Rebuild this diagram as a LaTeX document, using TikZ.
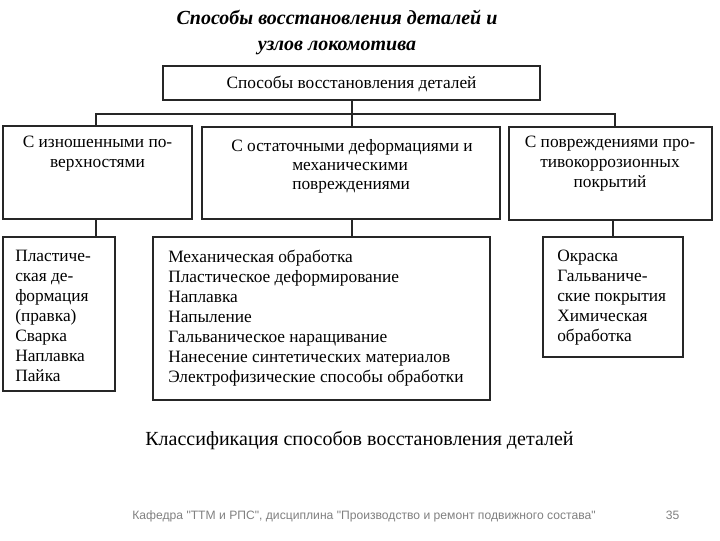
\documentclass[tikz,border=0pt]{standalone}
\usepackage{fontspec}
\setmainfont{Liberation Serif}
\newfontfamily\footfont{Liberation Sans}
\begin{document}
\begin{tikzpicture}[x=0.75pt,y=-0.75pt,
  box/.style={draw=black!85,line width=0.9pt,inner sep=0pt,fill=white},
  txt/.style={inner sep=0pt,font=\fontsize{13pt}{15pt}\selectfont},
  conn/.style={draw=black!85,line width=0.9pt},
  foot/.style={inner sep=0pt,anchor=base,font=\fontsize{9.1pt}{11pt}\selectfont\footfont,text=black!50},
  ttl/.style={inner sep=0pt,anchor=base,font=\fontsize{15pt}{20pt}\selectfont\bfseries\itshape}]
\useasboundingbox (0,0) rectangle (720,540);
% title
\node[ttl] (title1) at (337,24) {Способы восстановления деталей и};
\node[ttl] (title2) at (337,50) {узлов локомотива};
% boxes
\node[box,minimum width=282.75pt,minimum height=25.5pt] (top) at (351.5,83) {};
\node[box,minimum width=141.75pt,minimum height=69.75pt] (b1) at (97.5,172.5) {};
\node[box,minimum width=223.5pt,minimum height=69pt] (b2) at (351,173) {};
\node[box,minimum width=152.25pt,minimum height=69.75pt] (b3) at (610.5,173.5) {};
\node[box,minimum width=84pt,minimum height=115.5pt] (l1) at (59,314) {};
\node[box,minimum width=252.75pt,minimum height=122.25pt] (l2) at (321.5,318.5) {};
\node[box,minimum width=105pt,minimum height=90pt] (l3) at (613,297) {};
% texts
\node[txt,anchor=base] (topt) at (351.5,88) {Способы восстановления деталей};
\node[txt,anchor=north,align=center] (b1t) at (97.5,136) {С изношенными по-\\верхностями};
\node[txt,anchor=base] (b2t1) at (352,151) {С остаточными деформациями и};
\node[txt,anchor=base west] (b2t2) at (292,170) {механическими};
\node[txt,anchor=base west] (b2t3) at (292,189) {повреждениями};
\node[txt,anchor=north,align=center] (b3t) at (610,136) {С повреждениями про-\\тивокоррозионных\\покрытий};
\node[txt,anchor=north west,align=left] (l1t) at (15,250) {Пластиче-\\ская де-\\формация\\(правка)\\Сварка\\Наплавка\\Пайка};
\node[txt,anchor=north west,align=left] (l2t) at (168,250) {Механическая обработка\\Пластическое деформирование\\Наплавка\\Напыление\\Гальваническое наращивание\\Нанесение синтетических материалов\\Электрофизические способы обработки};
\node[txt,anchor=north west,align=left] (l3t) at (557,250) {Окраска\\Гальваниче-\\ские покрытия\\Химическая\\обработка};
% connectors
\coordinate (j) at (352,114);
\coordinate (j1) at (96,114);
\coordinate (j3) at (615,114);
\draw[conn] (top.south -| j) -- (j);
\draw[conn] (j1 |- b1.north) -- (j1) -- (j3) -- (j3 |- b3.north);
\draw[conn] (j) -- (j |- b2.north);
\draw[conn] (b1.south -| j1) -- (l1.north -| j1);
\draw[conn] (b2.south -| j) -- (j |- l2.north);
\draw[conn] (b3.south -| l3.north) -- (l3.north);
% caption and footer
\node[inner sep=0pt,anchor=base,font=\fontsize{15pt}{18pt}\selectfont] (cap) at (359.5,445) {Классификация способов восстановления деталей};
\node[foot] (footer) at (364,519) {Кафедра "ТТМ и РПС", дисциплина "Производство и ремонт подвижного состава"};
\node[foot] (page) at (672.5,519) {35};
\end{tikzpicture}
\end{document}
